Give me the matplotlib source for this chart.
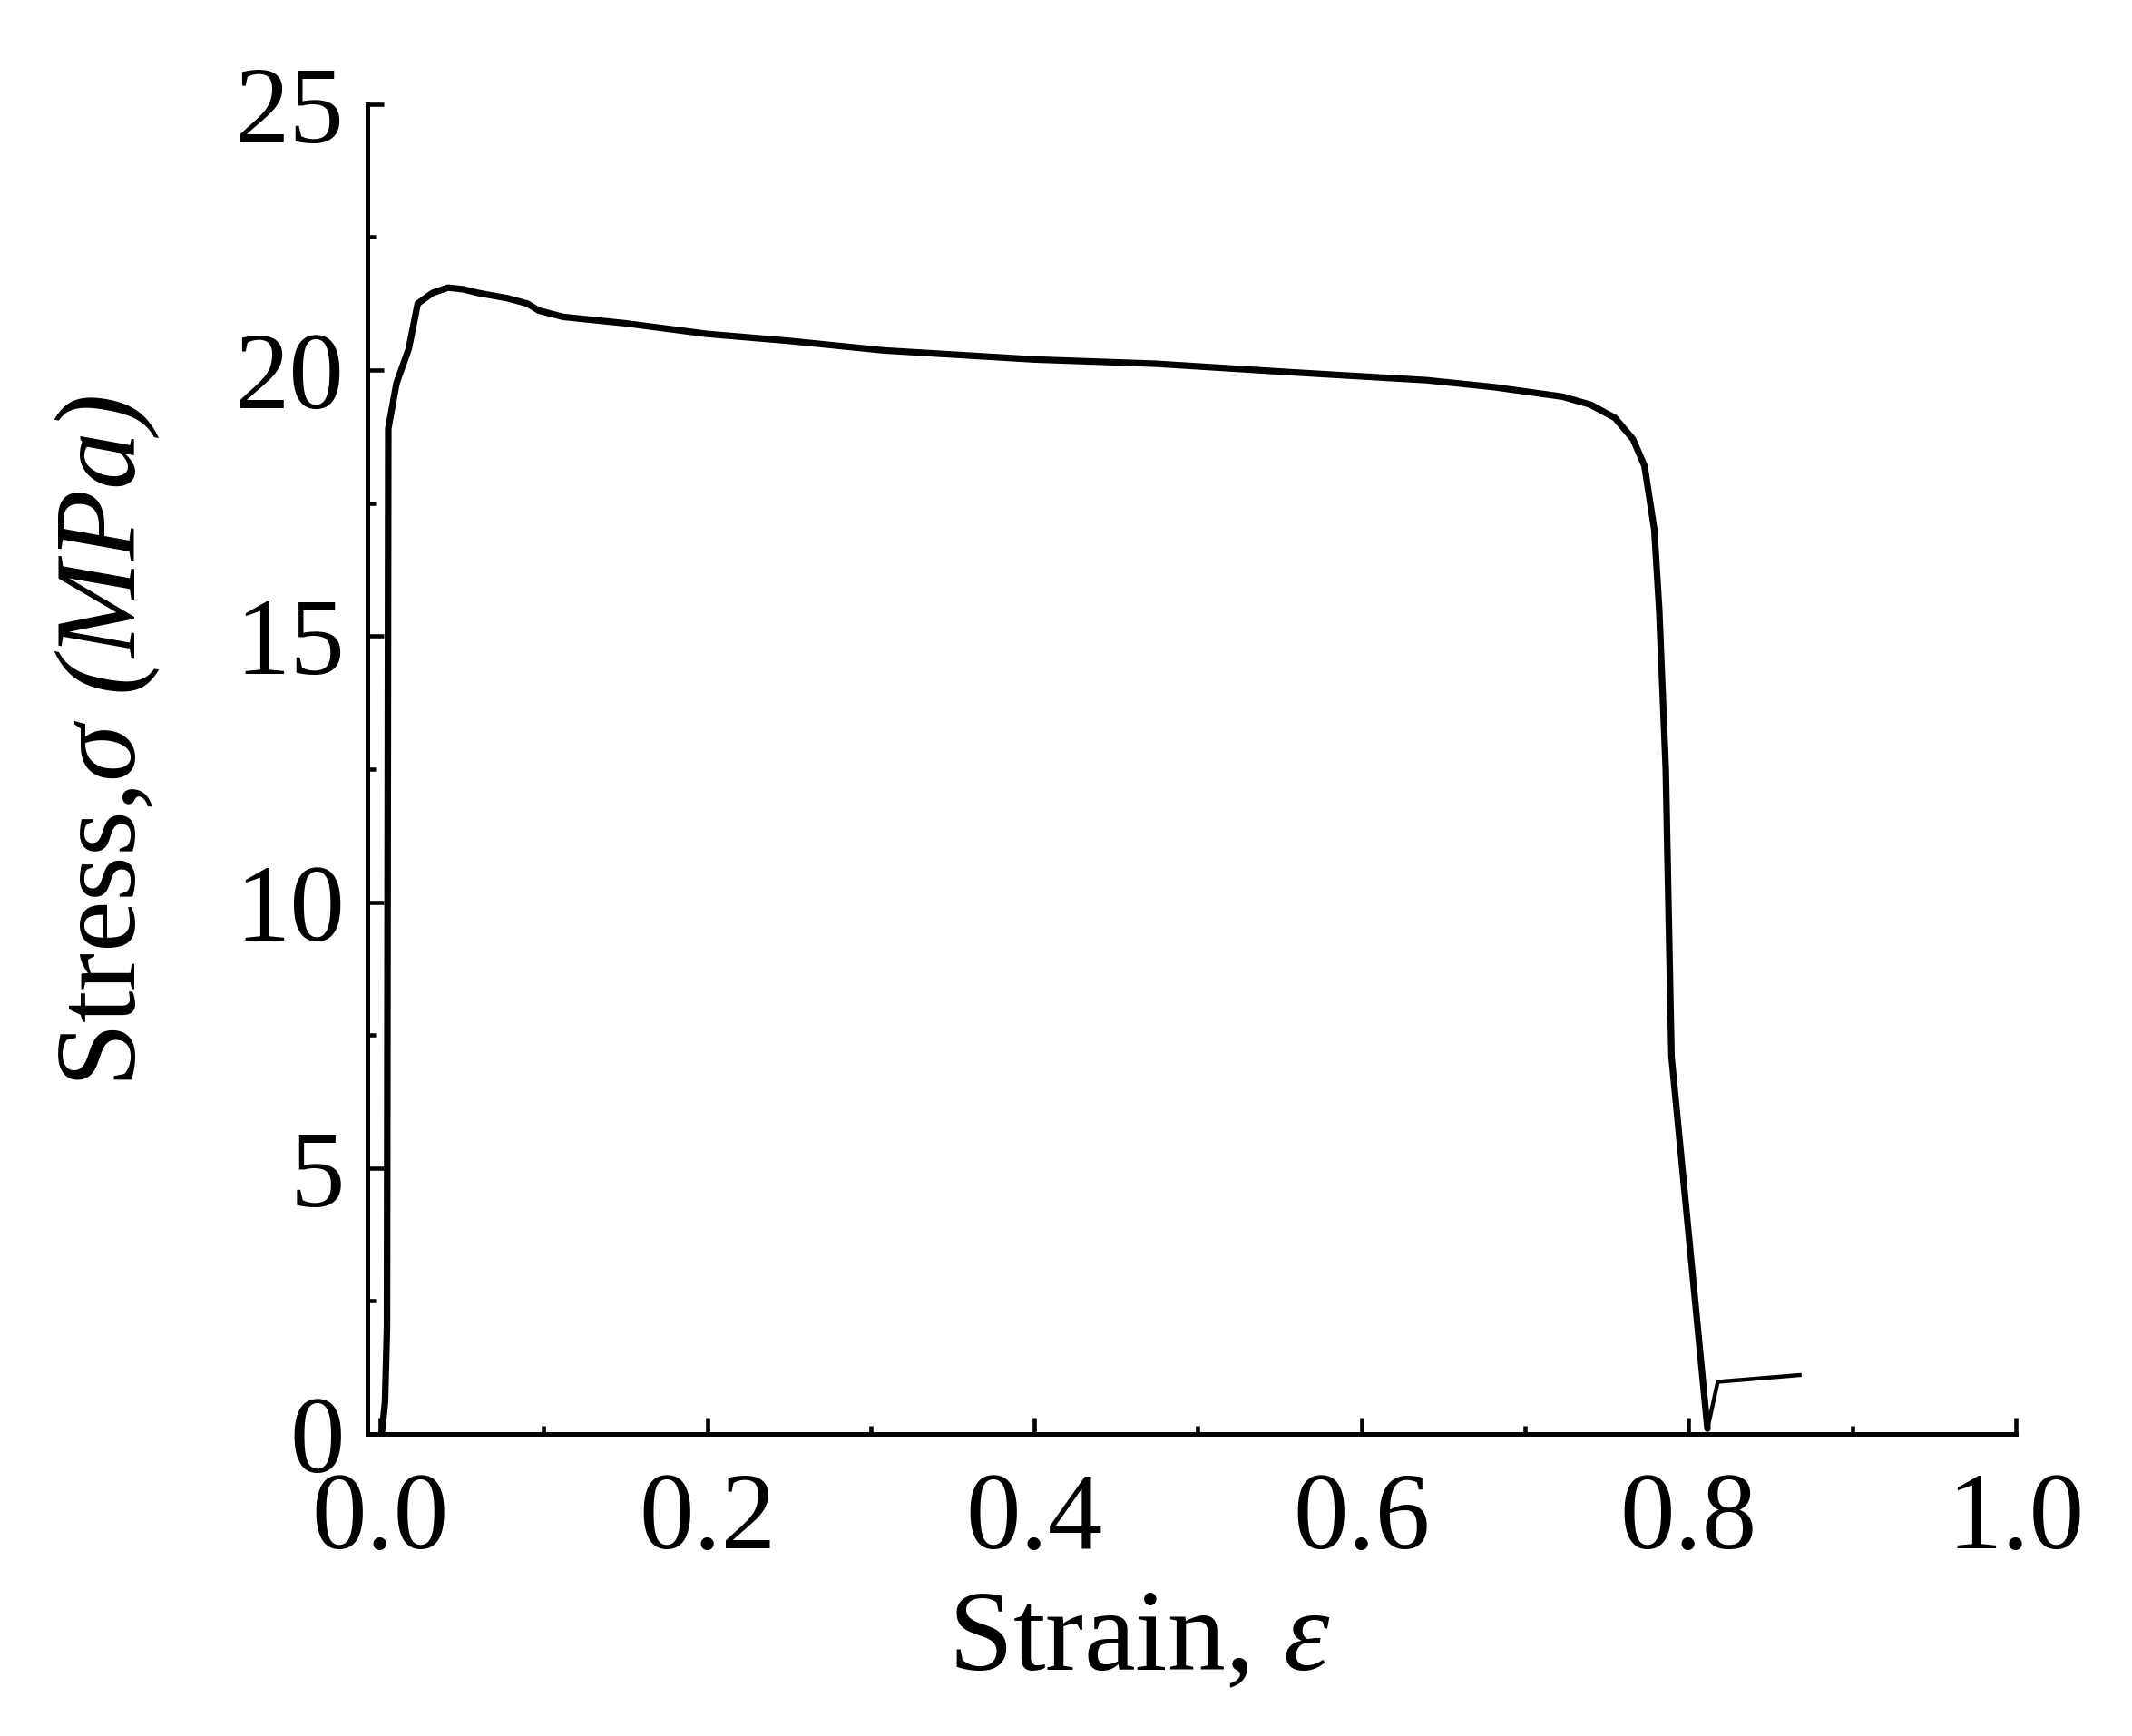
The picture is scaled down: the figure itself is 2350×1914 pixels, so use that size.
import matplotlib
matplotlib.use("Agg")
import matplotlib.pyplot as plt
from matplotlib.ticker import MultipleLocator

# values
strain = [0.0010, 0.0030, 0.0042, 0.0050, 0.0100, 0.0175, 0.0230, 0.0320, 0.0415,
          0.0507, 0.0600, 0.0780, 0.0900, 0.0970, 0.1120, 0.1500, 0.2000, 0.2500,
          0.3080, 0.4000, 0.4740, 0.5570, 0.6400, 0.6810, 0.7230, 0.7400, 0.7550,
          0.7660, 0.7730, 0.7790, 0.7820, 0.7860, 0.7895, 0.8115, 0.8178, 0.8690]
stress = [0.0, 0.6, 2.0, 18.9, 19.75, 20.4, 21.25, 21.45, 21.55,
          21.52, 21.45, 21.35, 21.25, 21.12, 21.0, 20.88, 20.68, 20.55,
          20.37, 20.2, 20.12, 19.96, 19.81, 19.68, 19.5, 19.35, 19.1,
          18.7, 18.2, 17.0, 15.5, 12.5, 7.1, 0.1, 0.98, 1.11]
break_idx = 33  # fracture point, tail after it is drawn thinner

x_ticks = [0.0, 0.2, 0.4, 0.6, 0.8, 1.0]
y_ticks = [0, 5, 10, 15, 20, 25]

plt.rcParams["font.family"] = ["Liberation Serif", "DejaVu Serif"]
plt.rcParams["mathtext.fontset"] = "custom"
plt.rcParams["mathtext.rm"] = "Liberation Serif"
plt.rcParams["mathtext.it"] = "Liberation Serif:italic"
plt.rcParams["mathtext.sf"] = "Liberation Serif:italic"  # used for italic brackets

fig = plt.figure(figsize=(23.5, 19.14), dpi=100)
ax = fig.add_axes([0.1723, 0.174, 0.7732, 0.766])

ax.plot(strain[:break_idx + 1], stress[:break_idx + 1], color="black", lw=5.2,
        solid_joinstyle="round", solid_capstyle="round")
ax.plot(strain[break_idx:], stress[break_idx:], color="black", lw=3.2,
        solid_capstyle="butt")

ax.set_xlim(-0.0078, 1.0)
ax.set_ylim(0, 25)
ax.set_xticks(x_ticks)
ax.set_yticks(y_ticks)
ax.set_xticklabels([f"{v:.1f}" for v in x_ticks])
ax.set_yticklabels([str(v) for v in y_ticks])
ax.xaxis.set_minor_locator(MultipleLocator(0.1))
ax.yaxis.set_minor_locator(MultipleLocator(2.5))

for side in ["top", "right"]:
    ax.spines[side].set_visible(False)
for side in ["left", "bottom"]:
    ax.spines[side].set_linewidth(3.6)

ax.tick_params(which="both", direction="in", width=3.3, labelsize=87)
ax.tick_params(which="major", length=13)
ax.tick_params(which="minor", length=6.5)
ax.tick_params(axis="x", pad=30)
ax.tick_params(axis="y", pad=18)

ax.set_xlabel(r"Strain, $\varepsilon$", fontsize=92)
ax.set_ylabel(r"Stress,$\sigma$ $\mathsf{(MPa)}$", fontsize=92)
ax.xaxis.set_label_coords(0.468, -0.117)
ax.yaxis.set_label_coords(-0.125, 0.521)

fig.savefig("out.png", dpi=100, facecolor="white")
